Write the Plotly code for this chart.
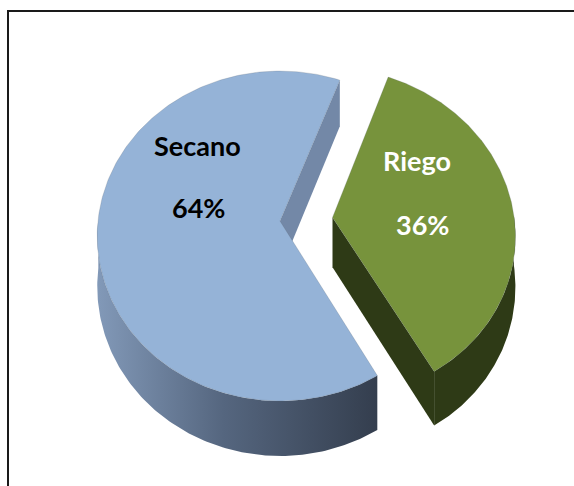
import numpy as np
import plotly.graph_objects as go

# ---- data ----
categories = ["Secano", "Riego"]
values = [64, 36]

# ---- style ----
top_colors = ["#95b3d7", "#77933c"]
cut_colors = ["#7388a7", "#2e3a16"]
wall_scales = [
    [[0, "#8299b8"], [0.45, "#55667f"], [1, "#343e4e"]],
    [[0, "#2e3a16"], [1, "#2e3a16"]],
]
label_colors = ["#000000", "#ffffff"]
pulls = [0.0, 0.29]
rotation = 150.5          # start angle (deg, clockwise from 12 o'clock)

W, H = 574, 486
cx, cy = 280, 221         # projected pie centre (pixels)
rx, ry = 182, 163.6       # projected radii
k = 0.0909                # perspective factor
depth = 50                # thickness in pixels

def proj(X, Z, h=0.0):
    w = 1 + k * Z
    return cx + rx * X / w, cy - ry * Z / w + h * depth / w

fig = go.Figure()
total = sum(values)
start = rotation
for i, (cat, v) in enumerate(zip(categories, values)):
    span = 360 * v / total
    th0, th1 = start, start + span
    mid = np.radians((th0 + th1) / 2)
    px, pz = pulls[i] * np.sin(mid), pulls[i] * np.cos(mid)
    thetas = np.radians(np.linspace(th0, th1, 240))
    ax_, az_ = px + np.sin(thetas), pz + np.cos(thetas)

    # outer wall (front-facing part)
    vis = np.cos(thetas) < 0.02
    if vis.any():
        tx, ty = proj(ax_[vis], az_[vis], 0)
        bx, by = proj(ax_[vis], az_[vis], 1)
        xs = np.concatenate([tx, bx[::-1], tx[:1]])
        ys = np.concatenate([ty, by[::-1], ty[:1]])
        fig.add_trace(go.Scatter(x=xs, y=ys, mode="lines", fill="toself",
                                 line=dict(width=0), hoverinfo="skip",
                                 fillgradient=dict(type="horizontal", colorscale=wall_scales[i])))

    # cut faces (only those facing the viewer)
    for th, nrm in ((th0, th0 - 90), (th1, th1 + 90)):
        if np.cos(np.radians(nrm)) < 0:
            ex, ez = px + np.sin(np.radians(th)), pz + np.cos(np.radians(th))
            pts = [proj(px, pz, 0), proj(ex, ez, 0), proj(ex, ez, 1), proj(px, pz, 1), proj(px, pz, 0)]
            fig.add_trace(go.Scatter(x=[p[0] for p in pts], y=[p[1] for p in pts],
                                     mode="lines", fill="toself", fillcolor=cut_colors[i],
                                     line=dict(width=0), hoverinfo="skip"))

    # top face
    tx, ty = proj(ax_, az_, 0)
    ox, oy = proj(px, pz, 0)
    fig.add_trace(go.Scatter(x=np.concatenate([[ox], tx, [ox]]),
                             y=np.concatenate([[oy], ty, [oy]]),
                             mode="lines", fill="toself", fillcolor=top_colors[i],
                             line=dict(width=0.6, color="rgba(90,100,110,0.35)"),
                             hoverinfo="skip"))
    start = th1

# labels
label_pos = {"Secano": ((197, 145), (198, 207)), "Riego": ((417, 160), (422, 224))}
for i, (cat, v) in enumerate(zip(categories, values)):
    (x1, y1), (x2, y2) = label_pos[cat]
    for txt, x, y in ((cat, x1, y1), (f"{v / total:.0%}", x2, y2)):
        fig.add_annotation(x=x, y=y, text=f"<b>{txt}</b>", showarrow=False,
                           font=dict(family="Lato", size=27, color=label_colors[i]),
                           xanchor="center", yanchor="middle")

# chart border
fig.add_shape(type="rect", x0=8, y0=11, x1=W + 20, y1=H + 20,
              line=dict(color="#1a1a1a", width=2), fillcolor="rgba(0,0,0,0)", layer="above")

fig.update_xaxes(range=[0, W], visible=False, fixedrange=True)
fig.update_yaxes(range=[H, 0], visible=False, fixedrange=True)
fig.update_layout(width=W, height=H, margin=dict(l=0, r=0, t=0, b=0),
                  paper_bgcolor="white", plot_bgcolor="white", showlegend=False)
fig.write_html("out.html")
